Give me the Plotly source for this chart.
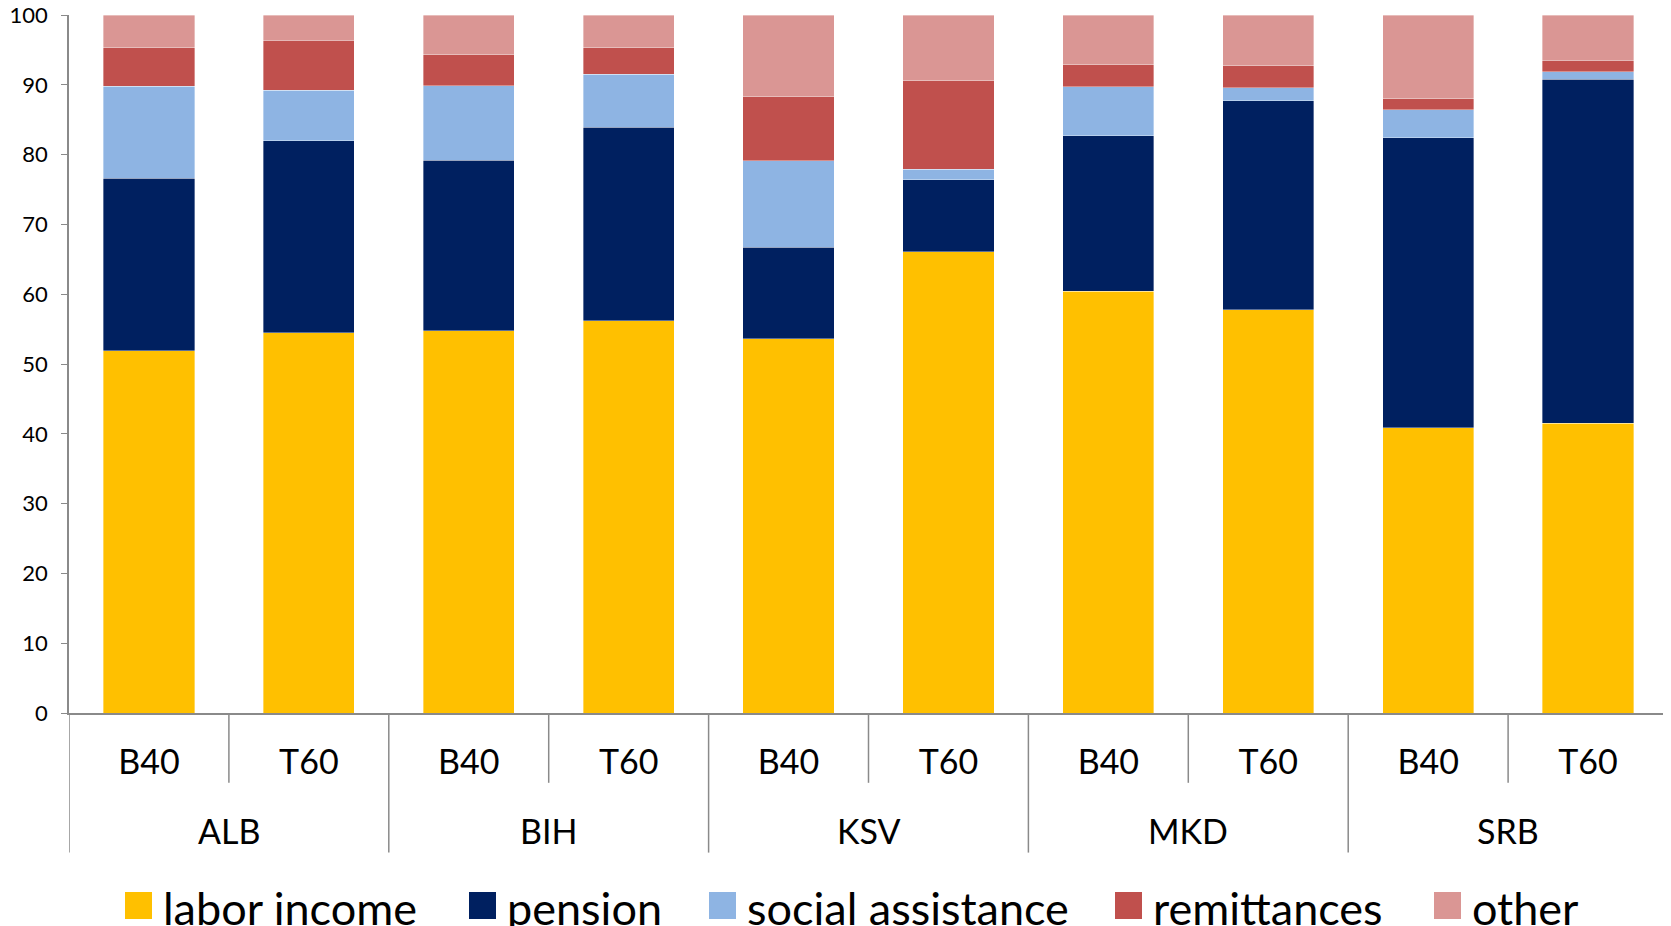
import plotly.graph_objects as go

# ---------------------------------------------------------------------------
# Data: income shares (%) by country and income group
# ---------------------------------------------------------------------------
countries = ["ALB", "BIH", "KSV", "MKD", "SRB"]
groups = ["B40", "T60"]

labor_income = [51.9, 54.5, 54.8, 56.2, 53.6, 66.1, 60.4, 57.8, 40.9, 41.5]
pension = [24.7, 27.5, 24.4, 27.7, 13.1, 10.3, 22.3, 29.9, 41.5, 49.3]
social_assistance = [13.2, 7.2, 10.7, 7.6, 12.4, 1.5, 7.0, 1.9, 4.0, 1.1]
remittances = [5.5, 7.2, 4.4, 3.8, 9.2, 12.7, 3.2, 3.1, 1.6, 1.6]
other = [4.7, 3.6, 5.7, 4.7, 11.7, 9.4, 7.1, 7.3, 12.0, 6.5]

y_ticks = [0, 10, 20, 30, 40, 50, 60, 70, 80, 90, 100]

series = [
    ("labor income", labor_income, "#FFC000"),
    ("pension", pension, "#002060"),
    ("social assistance", social_assistance, "#8EB4E3"),
    ("remittances", remittances, "#C0504D"),
    ("other", other, "#DA9694"),
]

FONT = "Lato, 'Open Sans', sans-serif"
AXIS_GREY = "#8a8a8a"

# one category per bar, labelled with the income group only
cats = [f"{c} {g}" for c in countries for g in groups]
inner_text = [g for c in countries for g in groups]

fig = go.Figure()
for name, vals, color in series:
    fig.add_trace(go.Bar(
        x=cats, y=vals, name=name,
        marker=dict(color=color, line=dict(color="rgba(255,255,255,0.6)", width=0.6)),
        showlegend=False,
    ))

# ---------------------------------------------------------------------------
# Two-level category axis: separators + country labels
# ---------------------------------------------------------------------------
for i in range(len(cats) + 1):
    outer = i % len(groups) == 0
    fig.add_shape(
        type="line", xref="x", yref="paper",
        x0=i - 0.5, x1=i - 0.5, y0=0, y1=-0.2 if outer else -0.1,
        line=dict(color=AXIS_GREY, width=1.5), layer="below",
    )

for k, c in enumerate(countries):
    fig.add_annotation(
        x=k * len(groups) + (len(groups) - 1) / 2, xref="x",
        y=-0.169, yref="paper", yanchor="middle",
        text=c, showarrow=False,
        font=dict(family=FONT, size=34, color="black"),
    )

# ---------------------------------------------------------------------------
# Legend drawn by hand (big swatches like the source)
# ---------------------------------------------------------------------------
legend_left_px = [117, 461, 701, 1107, 1426]   # offsets from page left
plot_left, plot_w = 61, 1599
leg_y = -0.2758
for (name, _, color), px in zip(series, legend_left_px):
    xa = (px - plot_left) / plot_w
    fig.add_shape(
        type="rect", xref="paper", yref="paper",
        xsizemode="pixel", ysizemode="pixel",
        xanchor=xa, yanchor=leg_y,
        x0=0, x1=27, y0=-13.5, y1=13.5,
        fillcolor=color, line=dict(width=0),
    )
    fig.add_annotation(
        x=xa, xref="paper", y=leg_y, yref="paper",
        xanchor="left", yanchor="middle", xshift=36, yshift=-2,
        text=name, showarrow=False,
        font=dict(family=FONT, size=45, color="black"),
    )

# page body adds an 8px margin, so the figure is 8px smaller than the window
fig.update_layout(
    width=1663, height=918,
    barmode="stack", bargap=0.43,
    plot_bgcolor="white", paper_bgcolor="white",
    margin=dict(l=61, r=3, t=7, b=213),
    font=dict(family=FONT, color="black"),
)
fig.update_xaxes(
    type="category", tickvals=cats, ticktext=inner_text,
    range=[-0.5, len(cats) - 0.5], automargin=False,
    showline=True, linecolor=AXIS_GREY, linewidth=1.5,
    ticks="", ticklabelstandoff=18,
    tickfont=dict(family=FONT, size=34, color="black"),
    showgrid=False,
)
fig.update_yaxes(
    range=[0, 100], tickvals=y_ticks, automargin=False,
    showline=True, linecolor=AXIS_GREY, linewidth=1.5,
    ticks="outside", ticklen=6, tickcolor=AXIS_GREY, ticklabelstandoff=9,
    ticklabeloverflow="allow",
    tickfont=dict(family=FONT, size=22, color="black"),
    showgrid=False, zeroline=False,
)

fig.write_html("out.html")
